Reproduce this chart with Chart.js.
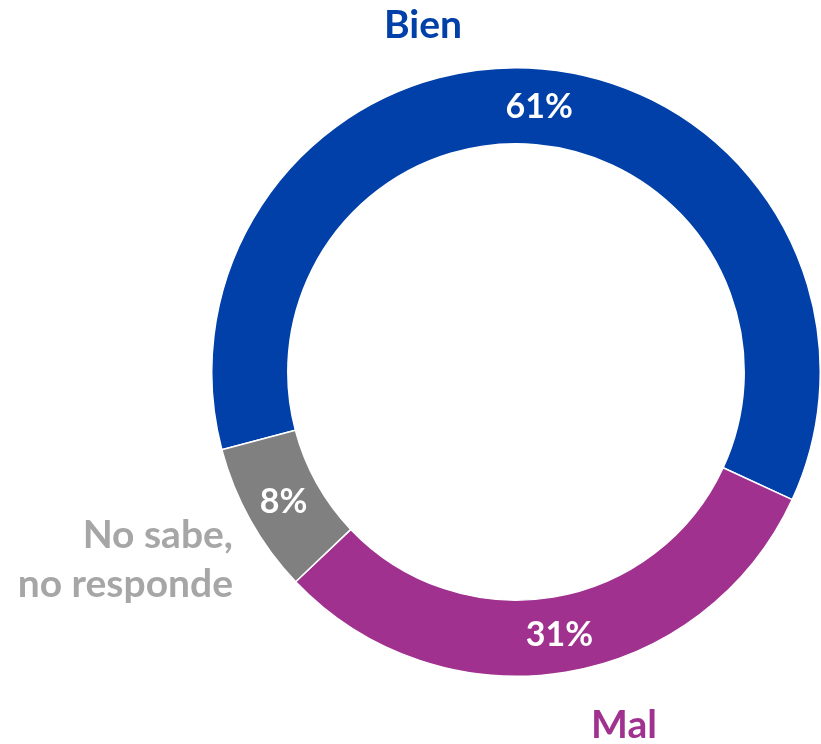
<!DOCTYPE html>
<html>
<head>
<meta charset="utf-8">
<script src="https://cdn.jsdelivr.net/npm/chart.js@4.4.0/dist/chart.umd.min.js"></script>
<style>
  body { margin: 0; background: #fff; }
  #wrap { width: 821px; height: 744px; }
</style>
</head>
<body>
<div id="wrap"><canvas id="chart" width="821" height="744"></canvas></div>
<script>
// valores
const categorias = ['Bien', 'Mal', 'No sabe, no responde'];
const valores = [61, 31, 8];
const etiquetas = ['61%', '31%', '8%'];
const colores = ['#0040A8', '#A0318F', '#808080'];

const fuente = 'Lato, "Open Sans", sans-serif';

// porcentajes en el centro de cada arco + nombres fuera del anillo
const etiquetasPlugin = {
    id: 'etiquetas',
    afterDatasetsDraw(chart) {
        const ctx = chart.ctx;
        const meta = chart.getDatasetMeta(0);
        ctx.save();
        ctx.fillStyle = '#fff';
        ctx.font = 'bold 34px ' + fuente;
        ctx.textAlign = 'center';
        ctx.textBaseline = 'middle';
        meta.data.forEach((arc, i) => {
            const p = arc.tooltipPosition(true);
            ctx.fillText(etiquetas[i], p.x, p.y);
        });

        ctx.font = 'bold 39px ' + fuente;
        ctx.textBaseline = 'alphabetic';
        ctx.fillStyle = colores[0];
        ctx.fillText(categorias[0], 423, 38);
        ctx.fillStyle = colores[1];
        ctx.fillText(categorias[1], 624, 738);

        ctx.fillStyle = '#A6A6A6';
        ctx.textAlign = 'right';
        ctx.fillText('No sabe,', 233, 548);
        ctx.fillText('no responde', 233, 597);
        ctx.restore();
    }
};

new Chart(document.getElementById('chart').getContext('2d'), {
    type: 'doughnut',
    data: {
        labels: categorias,
        datasets: [{
            data: valores,
            backgroundColor: colores,
            borderColor: '#fff',
            borderWidth: 1.5
        }]
    },
    options: {
        responsive: false,
        animation: false,
        cutout: '75%',
        rotation: 255.2,
        layout: { padding: { left: 211, right: 0, top: 67, bottom: 67 } },
        plugins: {
            legend: { display: false },
            tooltip: { enabled: false }
        }
    },
    plugins: [etiquetasPlugin]
});
</script>
</body>
</html>
